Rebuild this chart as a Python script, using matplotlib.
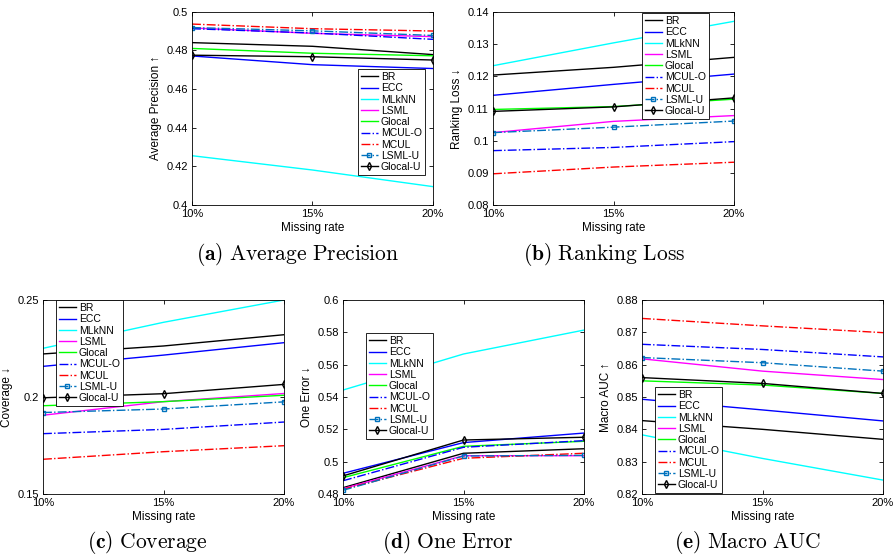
import matplotlib
matplotlib.use('Agg')
import matplotlib.pyplot as plt

plt.rcParams['font.family'] = ['Liberation Sans', 'DejaVu Sans']
plt.rcParams['mathtext.fontset'] = 'cm'
plt.rcParams['font.size'] = 8

# missing rates
rates = [10, 15, 20]
rate_labels = ['10%', '15%', '20%']
methods = ['BR', 'ECC', 'MLkNN', 'LSML', 'Glocal', 'MCUL-O', 'MCUL', 'LSML-U', 'Glocal-U']

# one row per method, in the order of `methods`
avg_precision = [
    [0.4840, 0.4821, 0.4778],
    [0.4771, 0.4726, 0.4706],
    [0.4255, 0.4181, 0.4095],
    [0.4916, 0.4888, 0.4871],
    [0.4810, 0.4785, 0.4772],
    [0.4912, 0.4890, 0.4857],
    [0.4936, 0.4912, 0.4900],
    [0.4918, 0.4901, 0.4877],
    [0.4775, 0.4767, 0.4750],
]
ranking_loss = [
    [0.1204, 0.1228, 0.1259],
    [0.1141, 0.1175, 0.1207],
    [0.1233, 0.1304, 0.1371],
    [0.1025, 0.1060, 0.1078],
    [0.1097, 0.1106, 0.1129],
    [0.0969, 0.0979, 0.0997],
    [0.0897, 0.0918, 0.0933],
    [0.1025, 0.1042, 0.1061],
    [0.1091, 0.1105, 0.1133],
]
coverage = [
    [0.2222, 0.2263, 0.2321],
    [0.2158, 0.2216, 0.2280],
    [0.2251, 0.2385, 0.2500],
    [0.1906, 0.1976, 0.2018],
    [0.1955, 0.1976, 0.2009],
    [0.1811, 0.1833, 0.1871],
    [0.1679, 0.1718, 0.1749],
    [0.1920, 0.1938, 0.1975],
    [0.1996, 0.2017, 0.2065],
]
one_error = [
    [0.4839, 0.5052, 0.5080],
    [0.4928, 0.5118, 0.5177],
    [0.5443, 0.5666, 0.5814],
    [0.4833, 0.5037, 0.5037],
    [0.4901, 0.5095, 0.5126],
    [0.4882, 0.5089, 0.5130],
    [0.4829, 0.5021, 0.5052],
    [0.4823, 0.5035, 0.5039],
    [0.4912, 0.5134, 0.5151],
]
macro_auc = [
    [0.8427, 0.8400, 0.8369],
    [0.8493, 0.8460, 0.8426],
    [0.8383, 0.8310, 0.8243],
    [0.8618, 0.8580, 0.8554],
    [0.8550, 0.8537, 0.8511],
    [0.8663, 0.8647, 0.8624],
    [0.8743, 0.8720, 0.8699],
    [0.8622, 0.8606, 0.8580],
    [0.8560, 0.8542, 0.8511],
]

# line styles (MATLAB look)
styles = [
    dict(color='#000000', ls='-'),
    dict(color='#0000ff', ls='-'),
    dict(color='#00ffff', ls='-'),
    dict(color='#ff00ff', ls='-'),
    dict(color='#00ff00', ls='-'),
    dict(color='#0000ff', ls='-.'),
    dict(color='#ff0000', ls='-.'),
    dict(color='#0072bd', ls='-.', marker='s', ms=3.5, mfc='none', mew=1.0),
    dict(color='#000000', ls='-', marker='d', ms=4, mfc='none', mew=1.0),
]

W, H = 893, 559
fig = plt.figure(figsize=(W / 100, H / 100), dpi=100)


def px_axes(x0, x1, y0, y1):
    return fig.add_axes([x0 / W, 1 - y1 / H, (x1 - x0) / W, (y1 - y0) / H])


panels = [
    # values, ylabel, ylim, yticks, yticklabels, axes px box, legend px (x, y top)
    (avg_precision, 'Average Precision \u2191', (0.4, 0.5),
     [0.4, 0.42, 0.44, 0.46, 0.48, 0.5], ['0.4', '0.42', '0.44', '0.46', '0.48', '0.5'],
     (192, 433, 11.7, 205), (358, 69)),
    (ranking_loss, 'Ranking Loss \u2193', (0.08, 0.14),
     [0.08, 0.09, 0.1, 0.11, 0.12, 0.13, 0.14], ['0.08', '0.09', '0.1', '0.11', '0.12', '0.13', '0.14'],
     (493, 734, 12, 205), (642, 13)),
    (coverage, 'Coverage \u2193', (0.15, 0.25),
     [0.15, 0.2, 0.25], ['0.15', '0.2', '0.25'],
     (43, 284, 300, 494), (56, 300)),
    (one_error, 'One Error \u2193', (0.48, 0.6),
     [0.48, 0.5, 0.52, 0.54, 0.56, 0.58, 0.6], ['0.48', '0.5', '0.52', '0.54', '0.56', '0.58', '0.6'],
     (343, 584, 300, 494), (366, 333)),
    (macro_auc, 'Macro AUC \u2191', (0.82, 0.88),
     [0.82, 0.83, 0.84, 0.85, 0.86, 0.87, 0.88], ['0.82', '0.83', '0.84', '0.85', '0.86', '0.87', '0.88'],
     (642, 883, 300, 494), (655, 387)),
]

for vals, ylab, ylim, yt, ytl, box, leg in panels:
    ax = px_axes(*box)
    for name, v, st in zip(methods, vals, styles):
        ax.plot(rates, v, lw=1.0, label=name, **st)
    ax.set_xlim(10, 20)
    ax.set_ylim(*ylim)
    ax.set_xticks(rates)
    ax.set_xticklabels(rate_labels)
    ax.set_yticks(yt)
    ax.set_yticklabels(ytl)
    ax.tick_params(direction='in', top=True, right=True, length=3, width=0.6, labelsize=8, pad=3)
    for s in ax.spines.values():
        s.set_linewidth(0.6)
    ax.set_xlabel('Missing rate', fontsize=8.5, labelpad=2)
    ax.set_ylabel(ylab, fontsize=8.5, labelpad=3)
    lg = ax.legend(loc='upper left', bbox_to_anchor=(leg[0] / W, 1 - leg[1] / H),
                   bbox_transform=fig.transFigure, fontsize=7.5, fancybox=False,
                   edgecolor='k', framealpha=1, handlelength=1.6, handletextpad=0.3,
                   labelspacing=0.12, borderpad=0.3, borderaxespad=0)
    lg.get_frame().set_linewidth(0.6)

captions = [
    (298, 255, r'$\mathbf{(a)}\ \mathrm{Average\ Precision}$'),
    (604, 255, r'$\mathbf{(b)}\ \mathrm{Ranking\ Loss}$'),
    (147, 543, r'$\mathbf{(c)}\ \mathrm{Coverage}$'),
    (448, 543, r'$\mathbf{(d)}\ \mathrm{One\ Error}$'),
    (748, 543, r'$\mathbf{(e)}\ \mathrm{Macro\ AUC}$'),
]
for x, y, t in captions:
    fig.text(x / W, 1 - y / H, t, ha='center', va='center', fontsize=15.5)

fig.savefig('out.png', dpi=100)
